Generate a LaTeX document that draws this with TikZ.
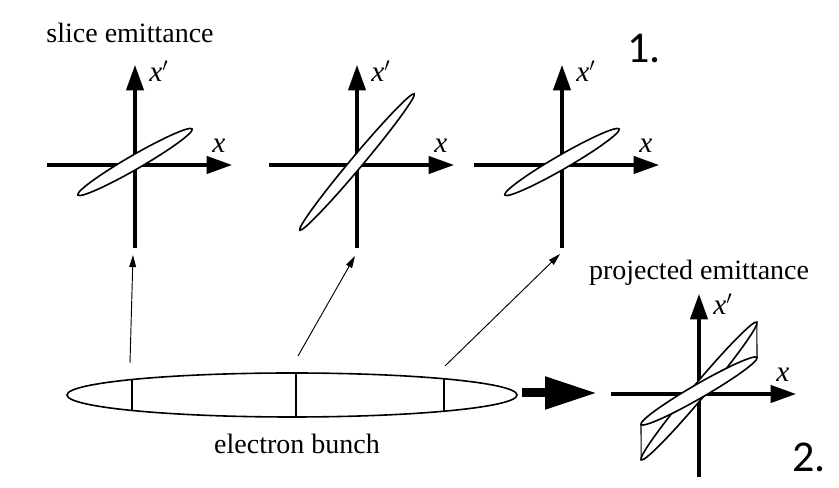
\documentclass[tikz,border=0pt]{standalone}
\usepackage{fontspec}
\setmainfont{Liberation Serif}
\newfontfamily\numfont{Carlito}
\usetikzlibrary{arrows.meta}

\begin{document}
\begin{tikzpicture}[
    x=0.75pt, y=0.75pt,
    font=\fontsize{21}{25}\selectfont,
    axis/.style={line width=2.3pt, -{Triangle[length=19pt,width=13pt]}},
    slice/.style={draw, line width=1.2pt, fill=white},
    cut/.style={line width=1.2pt},
    edge/.style={line width=0.8pt},
    feed/.style={line width=0.7pt, -{Triangle[length=9pt,width=5pt]}},
    bigarrow/.style={line width=6.75pt, -{Triangle[length=39pt,width=23pt]}},
    lbl/.style={anchor=base west, inner sep=0pt, font=\fontsize{22}{26}\selectfont\itshape},
    caption/.style={anchor=base, inner sep=0pt},
    marker/.style={anchor=base west, inner sep=0pt, font=\numfont\fontsize{33}{36}\selectfont},
]
  \useasboundingbox (0,0) rectangle (839,488);
  %% phase-space axes
  \foreach \n/\ox/\oy/\py in {1/135/323/83, 2/357/323/83, 3/562/323/83, 4/699/94/79} {
    \coordinate (o\n) at (\ox,\oy);
    \draw[axis] (\ox-88,\oy) -- (\ox+97,\oy);
    \draw[axis] (\ox,\oy-83) -- (\ox,\oy+100);
    \node[lbl] (x\n) at (\ox+77,\oy+12) {x};
    \node[lbl] (xp\n) at (\ox+14,\oy+\py) {x$'$};
  }
  %% slice ellipses
  \foreach \n/\ang/\len/\wid in {1/30/66/7, 2/50/89/6, 3/30/66/7} {
    \begin{scope}[shift={(o\n)}, shift={(0,3)}, rotate=\ang]
      \draw[slice] (0,0) ellipse [x radius=\len, y radius=\wid];
    \end{scope}
  }
  %% projected emittance
  \begin{scope}[shift={(o4)}, shift={(0,3)}, rotate=50]
    \coordinate (ptop) at (90,0);
    \coordinate (pbot) at (-90,0);
    \draw[slice] (0,0) ellipse [x radius=90, y radius=7];
  \end{scope}
  \begin{scope}[shift={(o4)}, shift={(0,3)}, rotate=30]
    \coordinate (qtop) at (67,0);
    \coordinate (qbot) at (-67,0);
    \draw[slice] (0,0) ellipse [x radius=67, y radius=7];
  \end{scope}
  \draw[edge] (ptop) -- (qtop);
  \draw[edge] (pbot) -- (qbot);
  %% electron bunch
  \coordinate (bc) at (292,93);
  \draw[slice] (bc) ellipse [x radius=225, y radius=22];
  \begin{scope}
    \clip (bc) ellipse [x radius=225, y radius=22];
    \foreach \bx in {132,296,444}
      \draw[cut] (\bx,60) -- (\bx,130);
  \end{scope}
  %% slices to phase space
  \coordinate (f1) at (130,125); \coordinate (g1) at (133,233);
  \coordinate (f2) at (298,132); \coordinate (g2) at (355,232);
  \coordinate (f3) at (445,122); \coordinate (g3) at (560,234);
  \draw[feed] (f1) -- (g1);
  \draw[feed] (f2) -- (g2);
  \draw[feed] (f3) -- (g3);
  \coordinate (bs) at (522,95); \coordinate (be) at (597,95);
  \draw[bigarrow] (bs) -- (be);
  %% texts
  \node[caption] (slicelbl) at (130,445) {slice emittance};
  \node[caption] (projlbl) at (699,208) {projected emittance};
  \node[caption] (bunchlbl) at (297,34) {electron bunch};
  \node[marker] (num1) at (627,425) {1.};
  \node[marker] (num2) at (792,16) {2.};
\end{tikzpicture}
\end{document}
